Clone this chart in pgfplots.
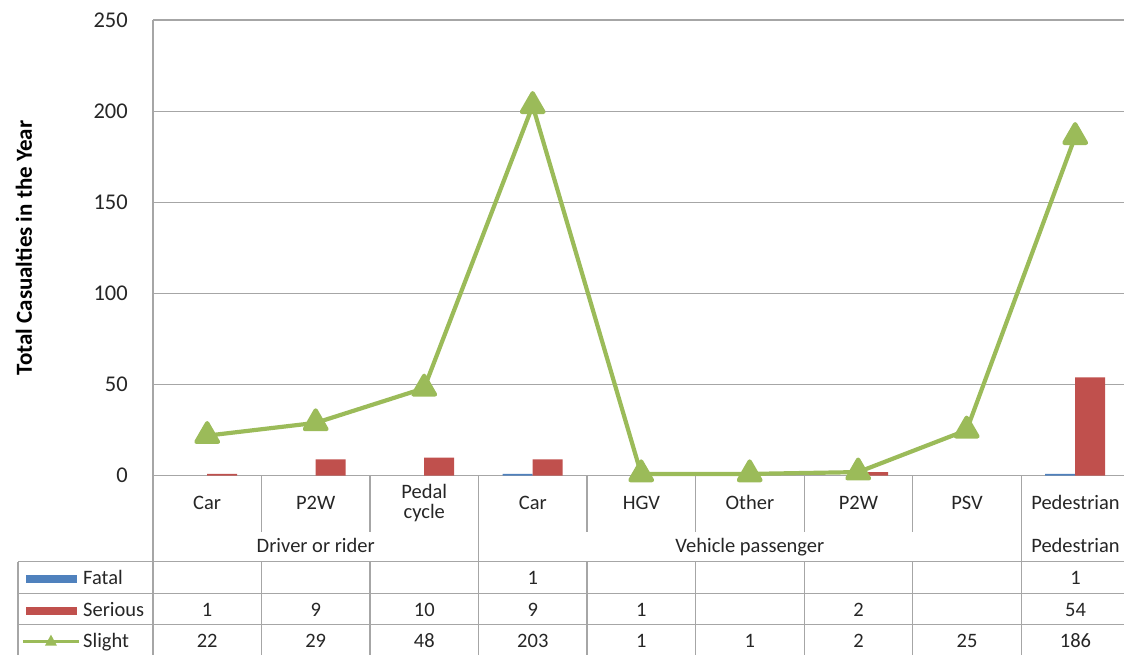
\documentclass[border=0pt]{standalone}
\usepackage{fontspec}
\setmainfont{Carlito}
\usepackage{pgfplots}
\usetikzlibrary{calc}
\pgfplotsset{compat=1.18}
\definecolor{cfatal}{HTML}{4F81BD}
\definecolor{cserious}{HTML}{C0504D}
\definecolor{cslight}{HTML}{9BBB59}
\definecolor{cgrid}{HTML}{A6A6A6}
\definecolor{ctext}{HTML}{262626}
\begin{document}
\begin{tikzpicture}
\begin{axis}[
  name=ax,
  scale only axis, width=972pt, height=456pt,
  xmin=-0.5, xmax=8.454, ymin=0, ymax=250,
  ytick={0,50,100,150,200,250},
  xtick=\empty,
  axis lines*=left,
  axis line style={cgrid, line width=1.2pt},
  ymajorgrids, grid style={cgrid, line width=1.2pt},
  major tick length=0pt,
  yticklabel style={font=\fontsize{22.5}{26}\selectfont, text=ctext, anchor=east, inner sep=0pt, xshift=-25pt},
  /pgf/number format/assume math mode=true,
  clip=false,
]
\addplot[ybar, bar width=0.276, bar shift=-0.138, fill=cfatal, draw=none]
  coordinates {(3,1) (8,1)};
\addplot[ybar, bar width=0.276, bar shift=0.138, fill=cserious, draw=none]
  coordinates {(0,1) (1,9) (2,10) (3,9) (4,1) (6,2) (8,54)};
\addplot[cslight, line width=4.2pt, line join=round, mark=triangle*, mark size=12.5pt, mark options={solid, fill=cslight, draw=none}]
  coordinates {(0,22) (1,29) (2,48) (3,203) (4,1) (5,1) (6,2) (7,25) (8,186)};
\end{axis}
\begin{scope}[shift={($(ax.south west)+(-153pt,476pt)$)}, x=1pt, y=1pt]
\path (0,0) rectangle (1125,-655);
% y label
\node[rotate=90, font=\bfseries\fontsize{23}{27}\selectfont, text=black] at (24,-248) {Total Casualties in the Year};
% table lines
\begin{scope}[cgrid, line width=1.2pt]
\draw (153,-476) -- (153,-655);
\draw (18,-562) -- (18,-655);
\foreach \xx in {261.6,370.2,587.4,696,804.6,913.2} {
  \draw (\xx,-476) -- (\xx,-532);
  \draw (\xx,-562) -- (\xx,-655);
}
\foreach \xx in {478.8,1021.8} {
  \draw (\xx,-476) -- (\xx,-655);
}
\draw (18,-562) -- (1125,-562);
\draw (18,-594) -- (1125,-594);
\draw (18,-625) -- (1125,-625);
\end{scope}
% text
\begin{scope}[every node/.style={font=\fontsize{20.5}{24}\selectfont, text=ctext, inner sep=0pt, anchor=base}]
\node at (207.3,-510) {Car};
\node at (315.9,-510) {P2W};
\node at (424.5,-499) {Pedal};
\node at (424.5,-519) {cycle};
\node at (533.1,-510) {Car};
\node at (641.7,-510) {HGV};
\node at (750.3,-510) {Other};
\node at (858.9,-510) {P2W};
\node at (967.5,-510) {PSV};
\node at (1076.1,-510) {Pedestrian};
\node at (315.9,-553) {Driver or rider};
\node at (750.3,-553) {Vehicle passenger};
\node at (1076.1,-553) {Pedestrian};
% legend labels
\node[anchor=base west] at (83,-585) {Fatal};
\node[anchor=base west] at (83,-617) {Serious};
\node[anchor=base west] at (83,-648) {Slight};
% values
\node at (533.1,-585) {1};
\node at (1076.1,-585) {1};
\foreach \xx/\v in {207.3/1,315.9/9,424.5/10,533.1/9,641.7/1,858.9/2,1076.1/54}
  \node at (\xx,-617) {\v};
\foreach \xx/\v in {207.3/22,315.9/29,424.5/48,533.1/203,641.7/1,750.3/1,858.9/2,967.5/25,1076.1/186}
  \node at (\xx,-648) {\v};
\end{scope}
% legend swatches
\fill[cfatal] (26,-575) rectangle (77,-583);
\fill[cserious] (26,-607) rectangle (77,-615);
\draw[cslight, line width=3pt] (23,-642) -- (79,-642);
\fill[cslight] (51,-635) -- (57,-646) -- (45,-646) -- cycle;
\end{scope}
\end{tikzpicture}
\end{document}
